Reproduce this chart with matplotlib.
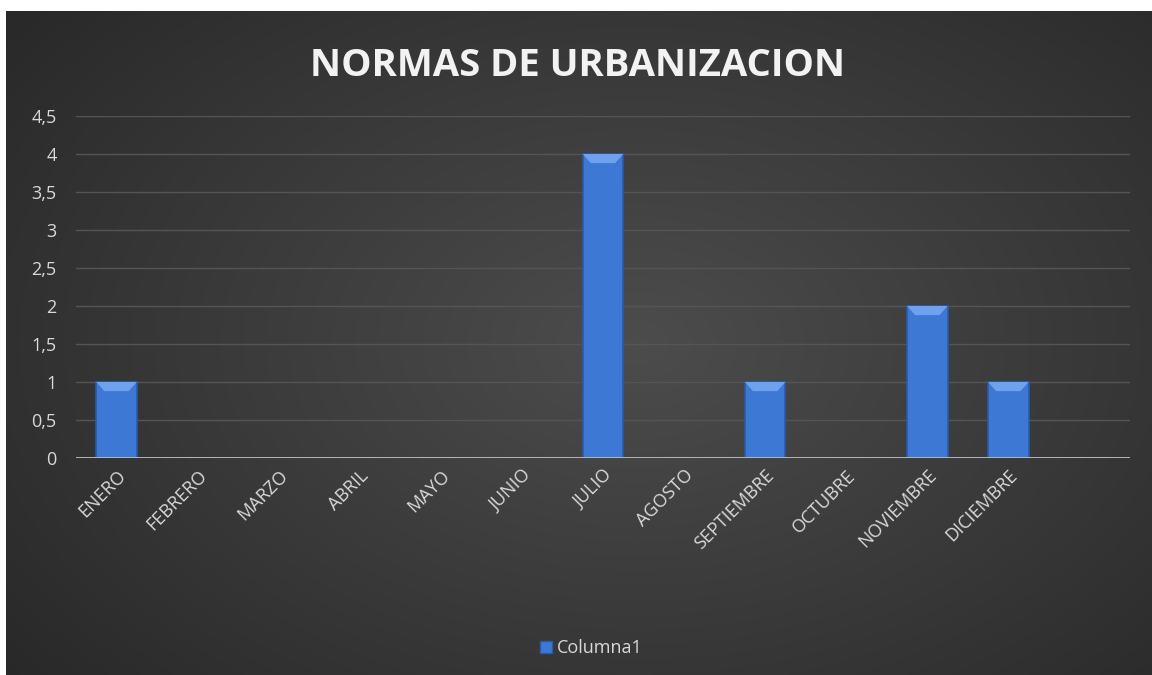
import numpy as np
import matplotlib.pyplot as plt
from matplotlib.lines import Line2D

months = ["ENERO", "FEBRERO", "MARZO", "ABRIL", "MAYO", "JUNIO", "JULIO",
          "AGOSTO", "SEPTIEMBRE", "OCTUBRE", "NOVIEMBRE", "DICIEMBRE", ""]
values = [1, 0, 0, 0, 0, 0, 4, 0, 1, 0, 2, 1, 0]
yticks = [0, 0.5, 1, 1.5, 2, 2.5, 3, 3.5, 4, 4.5]
ylabels = ["0", "0,5", "1", "1,5", "2", "2,5", "3", "3,5", "4", "4,5"]

plt.rcParams["font.family"] = ["Open Sans", "DejaVu Sans"]

fig = plt.figure(figsize=(11.52, 6.75), dpi=100)
fig.patch.set_facecolor("white")

# radial-ish dark background of the chart area
bg = fig.add_axes([6 / 1152, 0, 1 - 6 / 1152, 1 - 11 / 675])
yy, xx = np.mgrid[0:1:300j, 0:1:500j]
r = np.sqrt(((xx - 0.55) / 0.75) ** 2 + ((yy - 0.5) / 0.85) ** 2)
shade = np.clip(0.30 - 0.15 * r, 0.15, 0.30)
bg.imshow(np.dstack([shade] * 3), aspect="auto", extent=[0, 1, 0, 1], interpolation="bicubic")
bg.set_axis_off()

ax = fig.add_axes([76 / 1152, 1 - 458 / 675, (1130 - 76) / 1152, (458 - 116) / 675])
ax.set_facecolor("none")
x = np.arange(len(months))
ax.bar(x, values, width=0.5, color="#3d78d4", edgecolor="#2a5bab", linewidth=1.2, zorder=3)
# lighter bevel on top of each bar
for xi, v in zip(x, values):
    if v > 0:
        ax.fill([xi - 0.25, xi + 0.25, xi + 0.15, xi - 0.15],
                [v, v, v - 0.12, v - 0.12], color="#6fa2ec", zorder=4, lw=0)

ax.set_xlim(-0.5, len(months) - 0.5)
ax.set_ylim(0, 4.5)
ax.set_yticks(yticks)
ax.set_yticklabels(ylabels)
ax.set_xticks(x)
ax.set_xticklabels(months, rotation=45, ha="right", rotation_mode="anchor")
ax.tick_params(axis="both", length=0, colors="#d9d9d9", labelsize=13)
ax.tick_params(axis="y", pad=14)
ax.tick_params(axis="x", pad=6)
ax.grid(axis="y", color="#555555", lw=1, zorder=0)
for s in ax.spines.values():
    s.set_visible(False)
ax.axhline(0, color="#bfbfbf", lw=2, zorder=5)

fig.text(578 / 1152, 1 - 66 / 675, "NORMAS DE URBANIZACION", ha="center", va="center",
         fontsize=27.5, fontweight="bold", color="#f2f2f2")

handle = Line2D([], [], marker="s", ls="none", markersize=8,
                markerfacecolor="#3d78d4", markeredgecolor="#2a5bab")
fig.legend([handle], ["Columna1"], loc="center", bbox_to_anchor=(590 / 1152, 1 - 648 / 675),
           frameon=False, fontsize=13, labelcolor="#d9d9d9", handletextpad=0.1,
           handlelength=1.0)

fig.savefig("out.png", dpi=100)
